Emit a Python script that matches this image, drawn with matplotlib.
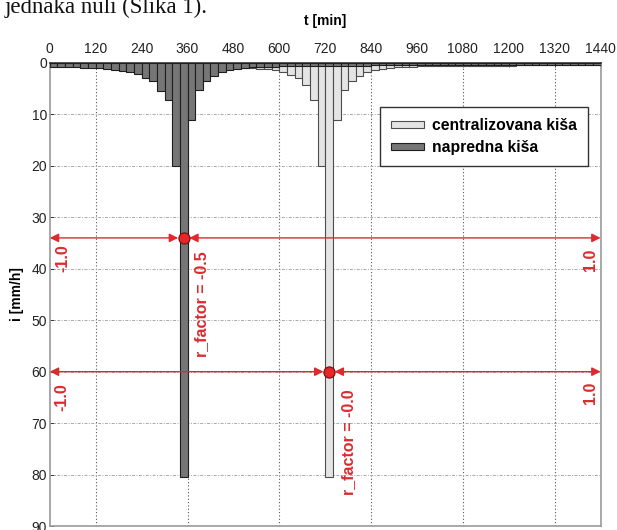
import numpy as np
import matplotlib
matplotlib.use("Agg")
import matplotlib.pyplot as plt

## chart data
t_start = np.arange(0, 1440, 20)  # pocetak intervala [min]

# napredna kisa (advanced storm), 72 intervala po 20 min
napredna = [0.8, 0.8, 0.8, 0.85, 0.9, 0.9, 1.0, 1.1, 1.4, 1.6,
            1.8, 2.2, 3.0, 3.5, 5.4, 7.2, 20.0, 80.4, 11.0, 5.3,
            3.5, 2.5, 1.8, 1.4, 1.1, 0.95, 0.85, 0.8, 0.75, 0.7,
            0.65, 0.6, 0.6, 0.55, 0.55, 0.55, 0.5, 0.5, 0.5, 0.5,
            0.5, 0.5, 0.45, 0.45, 0.45, 0.45, 0.45, 0.45, 0.45, 0.45,
            0.4, 0.4, 0.4, 0.4, 0.4, 0.4, 0.4, 0.4, 0.4, 0.4,
            0.4, 0.4, 0.4, 0.4, 0.4, 0.4, 0.4, 0.4, 0.4, 0.4,
            0.4, 0.4]
# centralizovana kisa (centred storm)
centralizovana = [0.45, 0.45, 0.45, 0.45, 0.45, 0.45, 0.5, 0.5, 0.5, 0.5,
                  0.5, 0.55, 0.55, 0.55, 0.6, 0.6, 0.65, 0.65, 0.7, 0.7,
                  0.75, 0.8, 0.85, 0.9, 0.95, 1.0, 1.05, 1.1, 1.2, 1.4,
                  1.7, 2.3, 2.9, 4.3, 7.2, 20.0, 80.4, 11.0, 5.3, 3.5,
                  2.5, 1.8, 1.4, 1.2, 1.0, 0.85, 0.75, 0.7, 0.65, 0.6,
                  0.6, 0.55, 0.55, 0.55, 0.5, 0.5, 0.5, 0.5, 0.5, 0.5,
                  0.5, 0.45, 0.45, 0.45, 0.45, 0.45, 0.45, 0.45, 0.45, 0.45,
                  0.45, 0.45]

x_ticks = np.arange(0, 1441, 120)
y_ticks = np.arange(0, 91, 10)
x_grid = [120, 360, 600, 840, 1080, 1320]

# r_factor oznake: (x tacke, y nivo, tekst, x teksta, y teksta)
r_points = [(350, 34, 'r_factor = -0.5', 397, 46.8),
            (730, 60, 'r_factor = -0.0', 781, 73.7)]
edge_labels = [('-1.0', 33, 38.0), ('1.0', 1413, 38.3),
               ('-1.0', 31, 64.9), ('1.0', 1413, 64.2)]

RED = '#dd2a2e'
SANS = ['Liberation Sans', 'DejaVu Sans']

fig = plt.figure(figsize=(6.17, 5.30), dpi=100)
W, H = 617.0, 530.0
ax = fig.add_axes([49.8 / W, 1 - 526 / H, (600.6 - 49.8) / W, (526 - 63) / H])

## bars
ax.bar(t_start, centralizovana, width=20, align='edge', color='#e4e4e4',
       edgecolor='#4d4d4d', linewidth=0.8, zorder=2, label='centralizovana kiša')
ax.bar(t_start, napredna, width=20, align='edge', color='#767676',
       edgecolor='#1e1e1e', linewidth=0.8, zorder=3, label='napredna kiša')

## axes
ax.set_xlim(0, 1440)
ax.set_ylim(90, 0)
ax.xaxis.tick_top()
ax.xaxis.set_label_position('top')
ax.set_xticks(x_ticks)
ax.set_yticks(y_ticks)
ax.tick_params(axis='both', direction='in', length=3, labelsize=10,
               colors='#222222', width=0.6)
ax.tick_params(axis='x', pad=5)
ax.tick_params(axis='y', pad=2)
for lab in ax.get_xticklabels() + ax.get_yticklabels():
    lab.set_family(SANS)
ax.set_xlabel('t [min]', fontsize=10, fontweight='bold', family=SANS, labelpad=12)
ax.set_ylabel('i [mm/h]', fontsize=10, fontweight='bold', family=SANS, labelpad=5)

for xg in x_grid:
    ax.axvline(xg, color='#555555', linestyle=(0, (1, 2)), linewidth=0.8, zorder=1)
for yg in y_ticks[1:-1]:
    ax.axhline(yg, color='#a8a8a8', linestyle=(0, (3, 1.5, 1, 1.5)), linewidth=0.7, zorder=1)

for s in ['left', 'right', 'bottom']:
    ax.spines[s].set_color('#9a9a9a')
    ax.spines[s].set_linewidth(1.2)
ax.spines['top'].set_color('#333333')
ax.spines['top'].set_linewidth(1.2)

## r_factor strelice
for xp, yp, txt, xt, yt in r_points:
    ax.annotate('', xy=(xp, yp), xytext=(0, yp),
                arrowprops=dict(arrowstyle='<|-|>', color=RED, lw=1.0,
                                mutation_scale=13, shrinkA=0, shrinkB=4),
                zorder=5)
    ax.annotate('', xy=(1440, yp), xytext=(xp, yp),
                arrowprops=dict(arrowstyle='<|-|>', color=RED, lw=1.0,
                                mutation_scale=13, shrinkA=4, shrinkB=0),
                zorder=5)
    ax.plot(xp, yp, 'o', ms=8, mfc='#e8262a', mec='#7a1414', mew=0.9, zorder=6)
    ax.text(xt, yt, txt, rotation=90, ha='center', va='center', color=RED,
            fontsize=11.5, fontweight='bold', family=SANS, zorder=6)
for txt, xt, yt in edge_labels:
    ax.text(xt, yt, txt, rotation=90, ha='center', va='center', color=RED,
            fontsize=11.5, fontweight='bold', family=SANS, zorder=6)

## legend
leg = ax.legend(loc='upper right', bbox_to_anchor=(0.977, 0.905),
                prop={'family': SANS, 'weight': 'bold', 'size': 11.3},
                handlelength=2.1, handleheight=0.35, handletextpad=0.5,
                borderpad=0.7, labelspacing=0.45, fancybox=False,
                framealpha=1, edgecolor='#333333', borderaxespad=0)
leg.get_frame().set_linewidth(1.0)

## tekst iz dokumenta iznad slike
fig.text(0.008, 1 - 13 / H, 'jednaka nuli (Slika 1).', family=['Liberation Serif', 'DejaVu Serif'],
         fontsize=16.5, va='baseline', ha='left', color='#111111')

fig.savefig('out.png', dpi=100)
